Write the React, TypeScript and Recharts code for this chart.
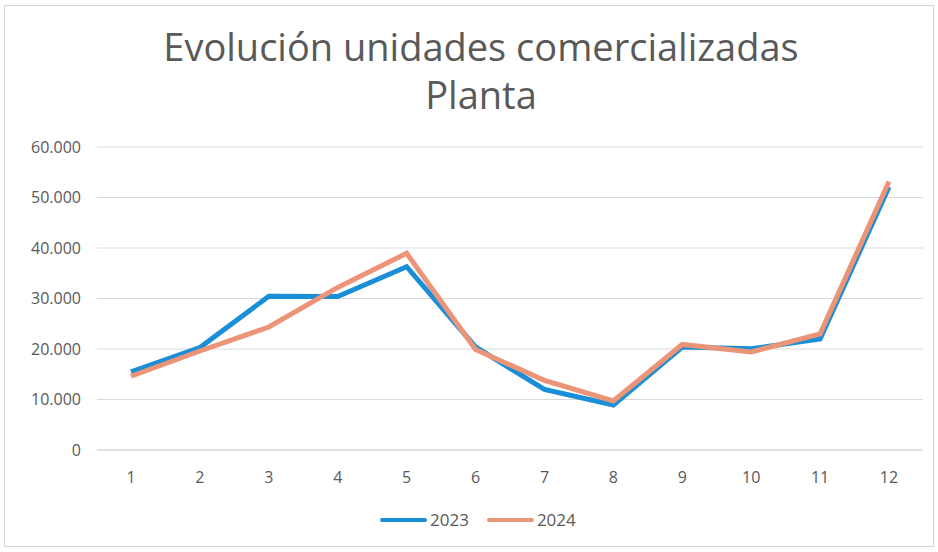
import { LineChart, Line, XAxis, YAxis, CartesianGrid } from "recharts";

const months = ["1", "2", "3", "4", "5", "6", "7", "8", "9", "10", "11", "12"];
const units2023 = [15450, 20300, 30450, 30400, 36300, 20400, 12000, 8900, 20400, 20050, 22000, 52100];
const units2024 = [14600, 19600, 24350, 32200, 38950, 19900, 13800, 9700, 20900, 19400, 23000, 53150];
const yTicks = [0, 10000, 20000, 30000, 40000, 50000, 60000];

const data = months.map((m, i) => ({ mes: m, y2023: units2023[i], y2024: units2024[i] }));

const FONT = "'Open Sans', 'Liberation Sans', sans-serif";
const TEXT = "#595959";
const BLUE = "#1a8fd8";
const ORANGE = "#eb9477";

const fmt = (v: number) => (v === 0 ? "0" : v.toLocaleString("de-DE"));

const series = [
  { c: BLUE, l: "2023" },
  { c: ORANGE, l: "2024" },
];

export default function App() {
  return (
    <div style={{ position: "fixed", left: 0, top: 0, width: 938, height: 552, background: "#fff" }}>
      <div
        style={{
          position: "absolute", left: 4, top: 5, width: 930, height: 542,
          border: "1px solid #d4d4d4", boxSizing: "border-box",
        }}
      />
      <div
        style={{
          position: "absolute", left: 0, top: 22, width: 962, textAlign: "center",
          fontFamily: FONT, fontSize: 38, lineHeight: "48px", color: TEXT,
        }}
      >
        Evolución unidades comercializadas
        <br />
        Planta
      </div>
      <LineChart width={938} height={552} data={data} margin={{ top: 147, right: 15, bottom: 72, left: 0 }}>
        <CartesianGrid horizontal vertical={false} stroke="#d9d9d9" />
        <XAxis
          dataKey="mes"
          height={30}
          padding={{ left: 34, right: 34 }}
          axisLine={{ stroke: "#d9d9d9" }}
          tickLine={false}
          tickSize={0}
          tickMargin={22}
          tick={{ fill: TEXT, fontSize: 16, fontFamily: FONT }}
        />
        <YAxis
          width={97}
          domain={[0, 60000]}
          ticks={yTicks}
          tickFormatter={fmt}
          axisLine={false}
          tickLine={false}
          tickSize={0}
          tickMargin={16}
          tick={{ fill: TEXT, fontSize: 16, fontFamily: FONT }}
        />
        <Line type="linear" dataKey="y2023" name="2023" stroke={BLUE} strokeWidth={5} dot={false} isAnimationActive={false} />
        <Line type="linear" dataKey="y2024" name="2024" stroke={ORANGE} strokeWidth={5} dot={false} isAnimationActive={false} />
      </LineChart>
      <div
        style={{
          position: "absolute", left: 380, top: 508, display: "flex", gap: 18,
          fontFamily: FONT, fontSize: 17, color: TEXT, lineHeight: "24px",
        }}
      >
        {series.map((e) => (
          <div key={e.l} style={{ display: "flex", alignItems: "center" }}>
            <div style={{ width: 47, height: 4, borderRadius: 2, background: e.c, marginRight: 3 }} />
            <span>{e.l}</span>
          </div>
        ))}
      </div>
    </div>
  );
}
